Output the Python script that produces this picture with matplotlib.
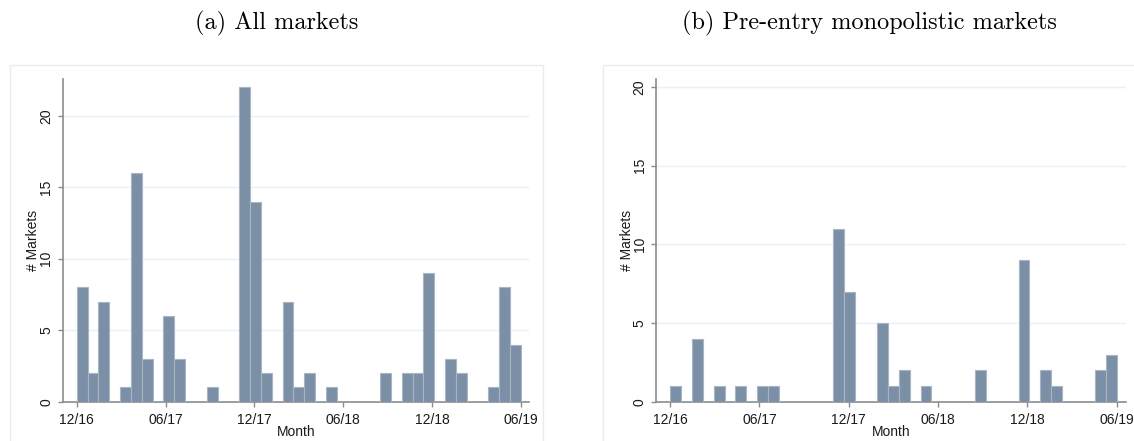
import numpy as np
import matplotlib.pyplot as plt
from matplotlib.patches import Rectangle

# Histogram counts per bin (41 bins spanning 12/16 .. 06/19)
all_markets = [8, 2, 7, 0, 1, 16, 3, 0, 6, 3,
               0, 0, 1, 0, 0, 22, 14, 2, 0, 7,
               1, 2, 0, 1, 0, 0, 0, 0, 2, 0,
               2, 2, 9, 0, 3, 2, 0, 0, 1, 8, 4]
monopoly_markets = [1, 0, 4, 0, 1, 0, 1, 0, 1, 1,
                    0, 0, 0, 0, 0, 11, 7, 0, 0, 5,
                    1, 2, 0, 1, 0, 0, 0, 0, 2, 0,
                    0, 0, 9, 0, 2, 1, 0, 0, 0, 2, 3]
month_ticks = [0, 6, 12, 18, 24, 30]
month_labels = ['12/16', '06/17', '12/17', '06/18', '12/18', '06/19']
titles = ['(a) All markets', '(b) Pre-entry monopolistic markets']

bar_color = '#7B90A6'
edge_color = '#A7B5C4'
axis_color = '#8C8C8C'
grid_color = '#EAF1F3'

W, H = 1134, 441
fig = plt.figure(figsize=(W / 100, H / 100), dpi=100)


def px_axes(x0, x1, y0, y1):
    return fig.add_axes([x0 / W, 1 - y1 / H, (x1 - x0) / W, (y1 - y0) / H])


def draw_hist(ax, counts, ymax, xlim):
    edges = np.linspace(0, 30, len(counts) + 1)
    ax.bar(edges[:-1], counts, width=np.diff(edges), align='edge',
           color=bar_color, edgecolor=edge_color, linewidth=0.8, zorder=3)
    ax.set_xlim(*xlim)
    ax.set_ylim(0, ymax)
    ax.set_yticks([0, 5, 10, 15, 20])
    ax.set_xticks(month_ticks)
    ax.set_xticklabels(month_labels)
    ax.grid(axis='y', color=grid_color, linewidth=1.0, zorder=0)
    for s in ['top', 'right']:
        ax.spines[s].set_visible(False)
    for s in ['left', 'bottom']:
        ax.spines[s].set_color(axis_color)
        ax.spines[s].set_linewidth(1.2)
    ax.tick_params(colors=axis_color, length=3.4, width=1.0, labelsize=10,
                   labelcolor='#1a1a1a')
    ax.tick_params(axis='x', pad=4.5)
    ax.tick_params(axis='y', pad=3.4)
    for lab in ax.get_yticklabels():
        lab.set_rotation(90)
        lab.set_va('center')
        lab.set_ha('right')
    ax.set_xlabel('Month', fontsize=10, color='#1a1a1a', va='center')
    ax.set_ylabel('# Markets', fontsize=10, color='#1a1a1a', va='center')
    ax.xaxis.set_label_coords(0.5, -0.094)


plt.rcParams['font.family'] = ['Liberation Sans', 'DejaVu Sans']

ax1 = px_axes(62.7, 529.3, 79.3, 401.7)
draw_hist(ax1, all_markets, 22.55, (-0.945, 30.56))
ax1.yaxis.set_label_coords(-0.064, 0.5)

ax2 = px_axes(656, 1125.5, 79.3, 401.7)
draw_hist(ax2, monopoly_markets, 20.5, (-0.95, 30.6))
ax2.yaxis.set_label_coords(-0.062, 0.5)

# light frames around each graph panel
for x0, x1 in [(10, 543), (603, 1140)]:
    fig.add_artist(Rectangle((x0 / W, -0.05), (x1 - x0) / W, 1.05 - 65 / H,
                             transform=fig.transFigure, fill=False,
                             edgecolor='#EBEBEB', linewidth=1.0))

fig.text(277 / W, 1 - 23 / H, titles[0], ha='center', va='center',
         fontsize=17.5, family='cmr10')
fig.text(869 / W, 1 - 23 / H, titles[1], ha='center', va='center',
         fontsize=17.5, family='cmr10')

fig.savefig('out.png', dpi=100)
